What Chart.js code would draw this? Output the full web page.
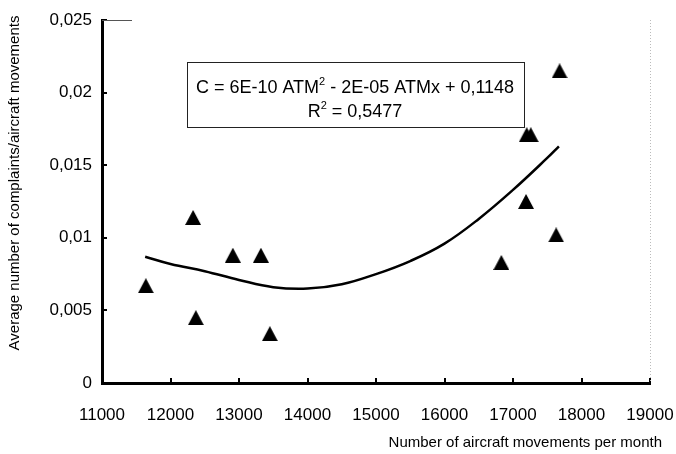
<!DOCTYPE html>
<html>
<head>
<meta charset="utf-8">
<script src="https://cdn.jsdelivr.net/npm/chart.js@4.4.0/dist/chart.umd.min.js"></script>
<style>
  html, body { margin: 0; padding: 0; background: #fff; }
</style>
</head>
<body>
<canvas id="complaintsChart" width="676" height="454"></canvas>
<script>
// Observed months: aircraft movements vs. average complaints per movement
const movements  = [11640, 12330, 12370, 12910, 13320, 13450, 16830, 17190, 17200, 17260, 17630, 17680];
const complaints = [0.0067, 0.0114, 0.0045, 0.0088, 0.0088, 0.0034, 0.0083, 0.0125, 0.0171, 0.0171, 0.0102, 0.0215];

// Polynomial trendline as drawn in the picture
const trendMovements  = [11630, 12000, 12500, 13000, 13500, 14000, 14500, 15000, 15500, 16000, 16500, 17000, 17500, 17670];
const trendComplaints = [0.0087, 0.0082, 0.0077, 0.0071, 0.0066, 0.0065, 0.0068, 0.0075, 0.0084, 0.0096, 0.0113, 0.0133, 0.0155, 0.0163];

// Axis ticks
const xTicks = [11000, 12000, 13000, 14000, 15000, 16000, 17000, 18000, 19000];
const yTicks = [0, 0.005, 0.01, 0.015, 0.02, 0.025];
const yTickLabels = ['0', '0,005', '0,01', '0,015', '0,02', '0,025'];

const xTitle = 'Number of aircraft movements per month';
const yTitle = 'Average number of complaints/aircraft movements';
const eqLine1 = ['C = 6E-10 ATM', '2', ' - 2E-05 ATMx + 0,1148'];
const eqLine2 = ['R', '2', ' = 0,5477'];

const FONT = '"Liberation Sans", Arial, sans-serif';

// filled triangle marker, centred on its bounding box like Excel does
function makeTriangle(w, h) {
  const c = document.createElement('canvas');
  c.width = w; c.height = h;
  const g = c.getContext('2d');
  g.fillStyle = '#000';
  g.beginPath();
  g.moveTo(w / 2, 0);
  g.lineTo(w, h);
  g.lineTo(0, h);
  g.closePath();
  g.fill();
  return c;
}
const triangle = makeTriangle(16, 15);

function drawPieces(ctx, pieces, cx, cy) {
  const big = '18px ' + FONT, small = '11px ' + FONT;
  let widths = pieces.map((p, i) => { ctx.font = (i % 2 === 1) ? small : big; return ctx.measureText(p).width; });
  let total = widths.reduce((a, b) => a + b, 0);
  let x = cx - total / 2;
  pieces.forEach((p, i) => {
    const sup = i % 2 === 1;
    ctx.font = sup ? small : big;
    ctx.fillText(p, x, sup ? cy - 6 : cy);
    x += widths[i];
  });
}

const decorations = {
  id: 'decorations',
  beforeDatasetsDraw(chart) {
    const { ctx } = chart;
    ctx.save();
    // equation box
    ctx.fillStyle = '#fff';
    ctx.fillRect(187, 62, 337, 65);
    ctx.strokeStyle = '#222';
    ctx.lineWidth = 1;
    ctx.strokeRect(187.5, 62.5, 337, 65);
    ctx.fillStyle = '#000';
    ctx.textAlign = 'left';
    ctx.textBaseline = 'middle';
    drawPieces(ctx, eqLine1, 355, 88);
    drawPieces(ctx, eqLine2, 355, 112);
    ctx.restore();
  },
  afterDraw(chart) {
    const { ctx, chartArea: a, scales: { x, y } } = chart;
    ctx.save();
    // inward tick marks
    ctx.strokeStyle = '#000';
    ctx.lineWidth = 2;
    xTicks.forEach(v => {
      const px = Math.round(x.getPixelForValue(v));
      ctx.beginPath(); ctx.moveTo(px, a.bottom); ctx.lineTo(px, a.bottom - 5); ctx.stroke();
    });
    yTicks.forEach(v => {
      const py = Math.round(y.getPixelForValue(v));
      ctx.beginPath(); ctx.moveTo(a.left, py); ctx.lineTo(a.left + 5, py); ctx.stroke();
    });
    // top and right frame
    ctx.lineWidth = 1;
    ctx.strokeStyle = '#555';
    ctx.beginPath(); ctx.moveTo(a.left, a.top + 0.5); ctx.lineTo(a.left + 30, a.top + 0.5); ctx.stroke();
    ctx.strokeStyle = '#bbb';
    ctx.setLineDash([1, 2]);
    ctx.beginPath(); ctx.moveTo(a.right + 0.5, a.top); ctx.lineTo(a.right + 0.5, a.bottom); ctx.stroke();
    ctx.setLineDash([]);
    // axis titles
    ctx.fillStyle = '#000';
    ctx.font = '15px ' + FONT;
    ctx.textAlign = 'right';
    ctx.textBaseline = 'middle';
    ctx.fillText(xTitle, 662, 443);
    ctx.translate(15, 183);
    ctx.rotate(-Math.PI / 2);
    ctx.textAlign = 'center';
    ctx.fillText(yTitle, 0, 0);
    ctx.restore();
  }
};

const ctx = document.getElementById('complaintsChart').getContext('2d');
const complaintsChart = new Chart(ctx, {
  type: 'scatter',
  data: {
    datasets: [{
      label: 'Complaints',
      data: movements.map((m, i) => ({ x: m, y: complaints[i] })),
      pointStyle: triangle,
      pointRadius: 8,
      showLine: false,
      order: 0
    }, {
      label: 'Trend',
      type: 'line',
      data: trendMovements.map((m, i) => ({ x: m, y: trendComplaints[i] })),
      borderColor: '#000',
      borderWidth: 2.5,
      pointRadius: 0,
      tension: 0.4,
      fill: false,
      order: 1
    }]
  },
  options: {
    responsive: false,
    animation: false,
    devicePixelRatio: 1,
    layout: { padding: { top: 20, right: 26, left: 0, bottom: 0 } },
    plugins: {
      legend: { display: false },
      tooltip: { enabled: false }
    },
    scales: {
      x: {
        type: 'linear',
        min: 11000,
        max: 19000,
        afterBuildTicks: s => { s.ticks = xTicks.map(v => ({ value: v })); },
        afterFit: s => { s.height = 71; s.paddingLeft = 0; s.paddingRight = 0; },
        grid: { display: false, drawTicks: false },
        border: { display: true, color: '#000', width: 3 },
        ticks: {
          color: '#000',
          font: { family: FONT, size: 17 },
          padding: 22,
          maxRotation: 0,
          autoSkip: false,
          callback: v => String(v)
        }
      },
      y: {
        type: 'linear',
        min: 0,
        max: 0.025,
        afterBuildTicks: s => { s.ticks = yTicks.map(v => ({ value: v })); },
        afterFit: s => { s.width = 102; s.paddingTop = 0; s.paddingBottom = 0; },
        grid: { display: false, drawTicks: false },
        border: { display: true, color: '#000', width: 3 },
        ticks: {
          color: '#000',
          font: { family: FONT, size: 17 },
          padding: 10,
          autoSkip: false,
          callback: (v, i) => yTickLabels[i]
        }
      }
    }
  },
  plugins: [decorations]
});
</script>
</body>
</html>
